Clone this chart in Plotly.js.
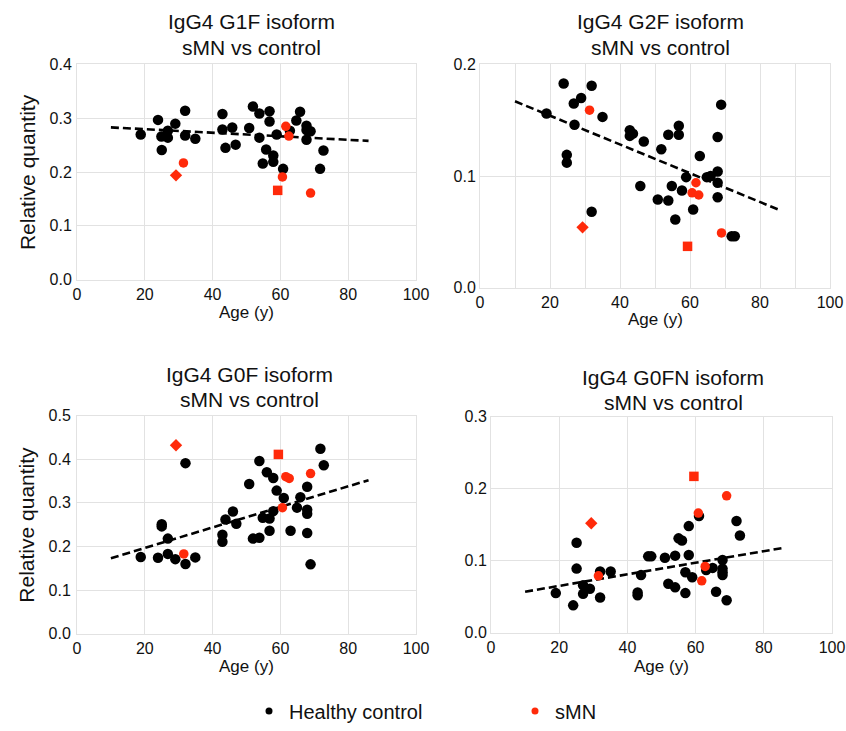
<!DOCTYPE html>
<html>
<head>
<meta charset="utf-8">
<script src="https://cdn.plot.ly/plotly-3.0.1.min.js"></script>
<style>
  html, body { margin: 0; padding: 0; background: #fff; }
  #chart { width: 846px; height: 731px; }
</style>
</head>
<body>
<div id="chart"></div>
<script>
// ---- IgG4 G1F isoform ----
const g1fCtrlAge = [18.8, 23.9, 24.9, 25.0, 26.8, 26.8, 29.0, 31.9, 31.9, 34.9, 42.9, 42.9, 43.8, 45.8, 46.8, 50.8, 51.9, 53.8, 53.8, 56.8, 56.8, 55.8, 54.8, 57.9, 57.9, 58.9, 60.8, 62.8, 64.7, 65.8, 67.7, 67.7, 67.7, 68.9, 71.7, 72.7];
const g1fCtrlVal = [0.270, 0.297, 0.266, 0.241, 0.277, 0.264, 0.290, 0.314, 0.268, 0.262, 0.308, 0.279, 0.245, 0.283, 0.251, 0.282, 0.322, 0.309, 0.264, 0.313, 0.294, 0.242, 0.216, 0.231, 0.219, 0.270, 0.206, 0.277, 0.296, 0.312, 0.286, 0.278, 0.260, 0.276, 0.206, 0.240];
const g1fSmnAge = [31.4, 29.2, 61.6, 62.5, 60.6, 59.2, 68.9];
const g1fSmnVal = [0.217, 0.194, 0.285, 0.267, 0.191, 0.166, 0.161];
const g1fFitAge = [10, 86];
const g1fFitVal = [0.283, 0.258];

// ---- IgG4 G2F isoform ----
const g2fCtrlAge = [19.0, 23.9, 24.8, 24.8, 26.8, 27.0, 28.9, 31.9, 31.9, 35.0, 42.8, 42.8, 43.7, 45.8, 46.8, 50.8, 51.8, 53.8, 53.8, 54.8, 55.8, 56.8, 56.8, 57.7, 58.9, 60.9, 62.8, 64.8, 65.9, 67.9, 67.9, 67.9, 67.9, 68.9, 71.9, 72.8];
const g2fCtrlVal = [0.156, 0.183, 0.119, 0.112, 0.165, 0.146, 0.170, 0.181, 0.068, 0.153, 0.141, 0.136, 0.138, 0.091, 0.131, 0.079, 0.124, 0.137, 0.078, 0.091, 0.061, 0.145, 0.137, 0.087, 0.099, 0.070, 0.118, 0.099, 0.100, 0.104, 0.094, 0.081, 0.135, 0.164, 0.046, 0.046];
const g2fSmnAge = [31.3, 29.3, 61.7, 60.6, 62.5, 59.3, 69.0];
const g2fSmnVal = [0.159, 0.054, 0.094, 0.085, 0.083, 0.037, 0.049];
const g2fFitAge = [10, 86];
const g2fFitVal = [0.167, 0.069];

// ---- IgG4 G0F isoform ----
const g0fCtrlAge = [18.8, 23.9, 25.0, 25.0, 26.8, 26.8, 29.0, 32.0, 32.0, 34.9, 42.9, 42.9, 43.8, 46.0, 47.0, 50.8, 51.9, 53.8, 53.8, 54.8, 56.0, 56.8, 56.8, 57.9, 57.9, 58.9, 61.0, 63.0, 64.9, 65.9, 67.9, 67.9, 67.9, 67.9, 68.9, 71.8, 72.8];
const g0fCtrlVal = [0.176, 0.174, 0.251, 0.246, 0.183, 0.218, 0.171, 0.391, 0.160, 0.175, 0.227, 0.211, 0.262, 0.280, 0.252, 0.343, 0.218, 0.220, 0.396, 0.266, 0.370, 0.264, 0.236, 0.357, 0.281, 0.328, 0.311, 0.236, 0.289, 0.313, 0.337, 0.284, 0.275, 0.231, 0.159, 0.424, 0.386];
const g0fSmnAge = [31.5, 29.2, 59.4, 61.6, 62.6, 60.6, 68.9];
const g0fSmnVal = [0.183, 0.432, 0.411, 0.360, 0.356, 0.289, 0.367];
const g0fFitAge = [10, 86];
const g0fFitVal = [0.173, 0.352];

// ---- IgG4 G0FN isoform ----
const g0fnCtrlAge = [19.0, 24.1, 25.1, 25.1, 27.0, 27.0, 29.0, 32.0, 32.0, 35.1, 43.0, 43.0, 44.0, 46.1, 47.0, 51.0, 52.0, 54.0, 54.0, 55.0, 56.0, 57.0, 57.0, 58.0, 58.0, 59.0, 61.0, 63.1, 65.0, 66.0, 67.9, 67.9, 67.9, 67.9, 69.1, 72.0, 73.0];
const g0fnCtrlVal = [0.055, 0.038, 0.125, 0.089, 0.066, 0.054, 0.061, 0.085, 0.049, 0.085, 0.056, 0.052, 0.080, 0.106, 0.106, 0.104, 0.068, 0.107, 0.063, 0.131, 0.128, 0.084, 0.055, 0.148, 0.108, 0.077, 0.162, 0.087, 0.090, 0.057, 0.101, 0.089, 0.084, 0.080, 0.045, 0.155, 0.135];
const g0fnSmnAge = [31.5, 29.4, 59.5, 60.8, 62.8, 61.8, 69.1];
const g0fnSmnVal = [0.079, 0.152, 0.217, 0.166, 0.092, 0.072, 0.190];
const g0fnFitAge = [10, 86];
const g0fnFitVal = [0.057, 0.118];

// sMN patients: one diamond, one square, the rest circles
const smnSymbols = ['circle', 'diamond', 'circle', 'circle', 'circle', 'square', 'circle'];
const smnSymbolsG0F = ['circle', 'diamond', 'square', 'circle', 'circle', 'circle', 'circle'];
const smnSymbolsG0FN = ['circle', 'diamond', 'square', 'circle', 'circle', 'circle', 'circle'];

const panelTitles = ['IgG4 G1F isoform<br>sMN vs control', 'IgG4 G2F isoform<br>sMN vs control',
                     'IgG4 G0F isoform<br>sMN vs control', 'IgG4 G0FN isoform<br>sMN vs control'];
const ageTitle = 'Age (y)';
const quantityTitle = 'Relative quantity';
const groupNames = ['Healthy control', 'sMN'];

const W = 846, H = 731;
const FONT = '"Liberation Sans", Arial, Helvetica, sans-serif';
const RED = '#ff2a0a';
const GRID = '#e2e2e2';

function px(x) { return x / W; }
function py(y) { return 1 - y / H; }

const panels = [
  {ctrlX: g1fCtrlAge, ctrlY: g1fCtrlVal, smnX: g1fSmnAge, smnY: g1fSmnVal, fitX: g1fFitAge, fitY: g1fFitVal, sym: smnSymbols},
  {ctrlX: g2fCtrlAge, ctrlY: g2fCtrlVal, smnX: g2fSmnAge, smnY: g2fSmnVal, fitX: g2fFitAge, fitY: g2fFitVal, sym: smnSymbols},
  {ctrlX: g0fCtrlAge, ctrlY: g0fCtrlVal, smnX: g0fSmnAge, smnY: g0fSmnVal, fitX: g0fFitAge, fitY: g0fFitVal, sym: smnSymbolsG0F},
  {ctrlX: g0fnCtrlAge, ctrlY: g0fnCtrlVal, smnX: g0fnSmnAge, smnY: g0fnSmnVal, fitX: g0fnFitAge, fitY: g0fnFitVal, sym: smnSymbolsG0FN}
];

const traces = [];
panels.forEach((p, i) => {
  const xa = i === 0 ? 'x' : 'x' + (i + 1);
  const ya = i === 0 ? 'y' : 'y' + (i + 1);
  traces.push({
    type: 'scatter', mode: 'markers', x: p.ctrlX, y: p.ctrlY, xaxis: xa, yaxis: ya,
    name: groupNames[0], legendgroup: 'ctrl', showlegend: false,
    marker: {color: '#000', size: 10.5}, cliponaxis: false
  });
  traces.push({
    type: 'scatter', mode: 'lines', x: p.fitX, y: p.fitY, xaxis: xa, yaxis: ya,
    showlegend: false, hoverinfo: 'skip',
    line: {color: '#000', width: 2.6, dash: '8px,4px'}
  });
  traces.push({
    type: 'scatter', mode: 'markers', x: p.smnX, y: p.smnY, xaxis: xa, yaxis: ya,
    name: groupNames[1], legendgroup: 'smn', showlegend: false,
    marker: {color: RED, size: 9.5, symbol: p.sym}, cliponaxis: false
  });
});

// legend keys use a smaller dot than the plotted markers
traces.push({type: 'scatter', mode: 'markers', x: [null], y: [null], name: groupNames[0],
             legendgroup: 'ctrl', marker: {color: '#000', size: 7}, hoverinfo: 'skip'});
traces.push({type: 'scatter', mode: 'markers', x: [null], y: [null], name: groupNames[1],
             legendgroup: 'smn', marker: {color: RED, size: 7}, hoverinfo: 'skip'});

function axisBase() {
  return {
    showgrid: true, gridcolor: GRID, gridwidth: 1,
    zeroline: false, showline: true, mirror: true, linecolor: GRID, linewidth: 1,
    ticks: '', tickfont: {family: FONT, size: 16, color: '#111'}, fixedrange: true
  };
}

// pixel boxes of the four plot areas: [left, right, top, bottom]
const boxes = [[77, 416, 65, 282], [480, 830, 65, 290], [77, 416, 419, 639], [491, 832, 420, 638]];
const yRanges = [[0, 0.4], [0, 0.2], [0, 0.5], [0, 0.3]];
const yStandoff = [1, 3.5, 2, 3.5];
const xStandoff = [5.5, 3.5, 4.5, 6.5];

const layout = {
  width: W, height: H,
  margin: {l: 0, r: 0, t: 0, b: 0},
  paper_bgcolor: '#fff', plot_bgcolor: '#fff',
  font: {family: FONT, color: '#111'},
  showlegend: true,
  legend: {
    orientation: 'h', x: px(249), xanchor: 'left', y: py(717), yanchor: 'middle',
    font: {family: FONT, size: 20, color: '#111'},
    entrywidth: 221, entrywidthmode: 'pixels', itemclick: false, itemdoubleclick: false
  },
  annotations: []
};

boxes.forEach((b, i) => {
  const sfx = i === 0 ? '' : String(i + 1);
  const xa = Object.assign(axisBase(), {
    domain: [px(b[0]), px(b[1])], range: [0, 100], dtick: 20, tick0: 0,
    anchor: 'y' + sfx, ticklabelstandoff: xStandoff[i]
  });
  if (i === 1) {
    xa.minor = {dtick: 10, showgrid: true, gridcolor: GRID, gridwidth: 1, ticks: ''};
  }
  const ya = Object.assign(axisBase(), {
    domain: [py(b[3]), py(b[2])], range: yRanges[i], dtick: 0.1, tick0: 0,
    tickformat: '.1f', anchor: 'x' + sfx, ticklabelstandoff: yStandoff[i]
  });
  layout['xaxis' + sfx] = xa;
  layout['yaxis' + sfx] = ya;
});

// panel titles (two lines each)
const titleX = [251, 660, 250, 673];
const titleY = [[22, 48], [22, 48], [378, 403], [381, 406]];
boxes.forEach((b, i) => {
  const lines = panelTitles[i].split('<br>');
  lines.forEach((t, k) => {
    layout.annotations.push({
      xref: 'paper', yref: 'paper', x: px(titleX[i]), y: py(titleY[i][k]),
      xanchor: 'center', yanchor: 'middle', showarrow: false, text: t,
      font: {family: FONT, size: 21, color: '#111'}
    });
  });
});

// x axis titles
const ageY = [315, 322, 672, 672];
boxes.forEach((b, i) => {
  layout.annotations.push({
    xref: 'paper', yref: 'paper', x: px((b[0] + b[1]) / 2), y: py(ageY[i]),
    xanchor: 'center', yanchor: 'middle', showarrow: false, text: ageTitle,
    font: {family: FONT, size: 17, color: '#111'}
  });
});

// y axis titles (left column only)
[[65, 282], [419, 639]].forEach(r => {
  layout.annotations.push({
    xref: 'paper', yref: 'paper', x: px(27), y: py((r[0] + r[1]) / 2),
    xanchor: 'center', yanchor: 'middle', showarrow: false, text: quantityTitle,
    textangle: -90, font: {family: FONT, size: 21, color: '#111'}
  });
});

Plotly.newPlot('chart', traces, layout, {displayModeBar: false, staticPlot: true});
</script>
</body>
</html>
